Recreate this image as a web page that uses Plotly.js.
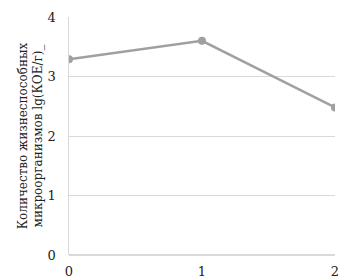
<!DOCTYPE html>
<html><head><meta charset="utf-8">
<script src="https://cdn.plot.ly/plotly-3.0.1.min.js"></script>
<style>body{margin:0}#c{width:359px;height:279px}</style>
</head><body><div id="c"></div>
<script>
const xValues = [0, 1, 2];
const yValues = [3.29, 3.6, 2.48];
const yTicks = [0, 1, 2, 3, 4];
const yTitle = "Количество жизнеспособных<br>микроорганизмов lg(КОЕ/г)_";
const fam = 'DejaVu Serif';

Plotly.newPlot('c', [{
  x: xValues, y: yValues, mode: 'lines+markers', type: 'scatter',
  line: {color: '#a0a0a0', width: 2.5},
  marker: {color: '#a0a0a0', size: 8}
}], {
  width: 359, height: 279,
  margin: {l: 69, r: 24, t: 17, b: 24},
  paper_bgcolor: '#fff', plot_bgcolor: '#fff',
  font: {family: fam, size: 13, color: '#222'},
  showlegend: false,
  xaxis: {range: [0, 2], tickvals: xValues, showgrid: false, zeroline: false,
    showline: false, ticks: 'outside', ticklen: 4, tickcolor: 'rgba(0,0,0,0)',
    tickfont: {family: fam, size: 13}},
  yaxis: {range: [0, 4], tickvals: yTicks, showgrid: true, gridcolor: '#d9d9d9', gridwidth: 1,
    zeroline: true, zerolinecolor: '#d9d9d9', zerolinewidth: 1.5,
    showline: true, linecolor: '#d9d9d9', linewidth: 1.5, ticks: '', ticklabelstandoff: 9,
    tickfont: {family: fam, size: 13},
    title: {text: yTitle, font: {family: fam, size: 12}, standoff: 2}},
}, {displayModeBar: false, staticPlot: true});
</script></body></html>
